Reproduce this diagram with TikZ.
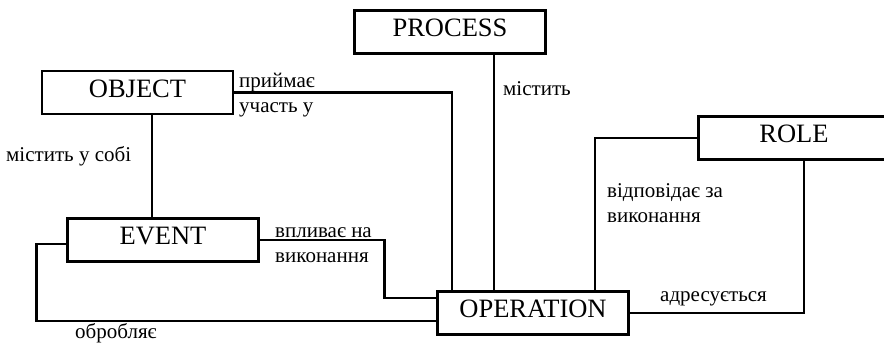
\documentclass[tikz,border=0pt]{standalone}
\usepackage{fontspec}
\setmainfont{Liberation Serif}
\begin{document}
\begin{tikzpicture}[x=1pt,y=-1pt,
  entity/.style={draw, line width=2.2pt, minimum width=191pt, minimum height=43pt,
    inner sep=0pt, font=\fontsize{26.5}{28}\selectfont, text depth=8pt},
  link/.style={line width=2.6pt},
  lbl/.style={anchor=base west, inner sep=0pt, font=\fontsize{21}{23}\selectfont}]
\useasboundingbox (0,0) rectangle (884,346);
\clip (0,0) rectangle (884,346);
\node[entity] (PROCESS) at (450,32) {PROCESS};
\node[entity] (OBJECT) at (137.5,92.5) {OBJECT};
\node[entity] (ROLE) at (794,138) {ROLE};
\node[entity] (EVENT) at (163,240) {EVENT};
\node[entity] (OPERATION) at (533,313) {OPERATION};
% connectors
\draw[link] (OBJECT.east) -| ([xshift=-81pt]OPERATION.north);
\draw[link] ([xshift=-39pt]OPERATION.north) -- ([xshift=-39pt]OPERATION.north |- PROCESS.south);
\draw[link] (ROLE.west) -| ([xshift=62pt]OPERATION.north);
\draw[link] (OPERATION.east) -| ([xshift=10pt]ROLE.south);
\draw[link] ([xshift=14.5pt]OBJECT.south) -- ([xshift=14.5pt]OBJECT.south |- EVENT.north);
\draw[link] (EVENT.east) -- ++(125,0) |- ([yshift=15pt]OPERATION.west);
\draw[link] ([yshift=-4pt]EVENT.west) -- ++(-30,0) |- ([yshift=-8pt]OPERATION.west);
% labels
\node[lbl] (l1a) at (239,87) {приймає};
\node[lbl] (l1b) at (239,112) {участь у};
\node[lbl] (l2) at (6,161) {містить у собі};
\node[lbl] (l3) at (503,95) {містить};
\node[lbl] (l4a) at (607,197) {відповідає за};
\node[lbl] (l4b) at (607,222) {виконання};
\node[lbl] (l5a) at (275,237) {впливає на};
\node[lbl] (l5b) at (275,262) {виконання};
\node[lbl] (l6) at (75,338) {обробляє};
\node[lbl] (l7) at (660,301) {адресується};
\end{tikzpicture}
\end{document}
